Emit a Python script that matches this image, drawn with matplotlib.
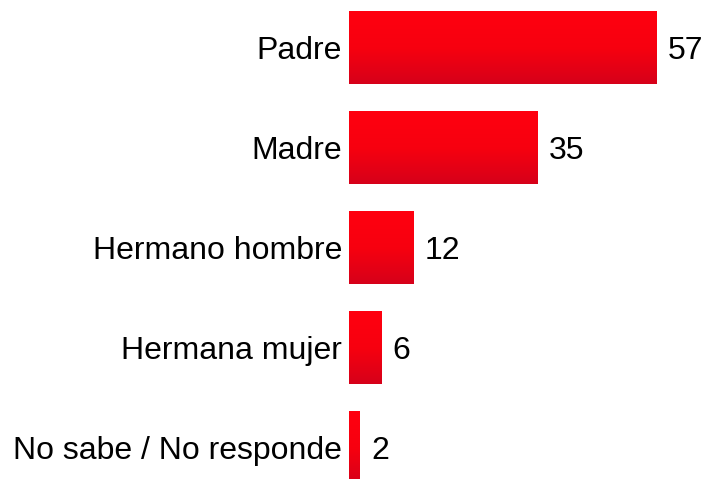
import matplotlib.pyplot as plt
import numpy as np
from matplotlib.colors import LinearSegmentedColormap

categories = ['Padre', 'Madre', 'Hermano hombre', 'Hermana mujer', 'No sabe / No responde']
values = [57, 35, 12, 6, 2]

plt.rcParams['font.family'] = ['Liberation Sans', 'DejaVu Sans']

fig = plt.figure(figsize=(7.09, 4.79), dpi=100)
ax = fig.add_axes([349 / 709, 0, 1 - 349 / 709, 1])

idx = np.arange(len(categories))
height = 0.73
bars = ax.barh(idx, values, height, color='none', edgecolor='none')

# vertical red gradient inside each bar: bright at top, darker at bottom
cmap = LinearSegmentedColormap.from_list('red_grad', ['#ff0010', '#f7000f', '#d6001a'])
grad = np.linspace(0, 1, 256).reshape(-1, 1)
for b in bars:
    x0, y0 = b.get_x(), b.get_y()
    w, h = b.get_width(), b.get_height()
    im = ax.imshow(grad, cmap=cmap, aspect='auto', extent=(x0, x0 + w, y0 + h, y0),
                   origin='upper', zorder=2)
    im.set_clip_path(b)

for i, v in enumerate(values):
    ax.text(v + 2.1, i, str(v), va='center_baseline', ha='left', fontsize=23, color='#000000')

ax.set_yticks(idx, categories)
ax.tick_params(axis='y', length=0, pad=5, labelsize=23)
ax.set_xticks([])
ax.set_xlim(0, 66.8)
ax.set_ylim(4.315, -0.475)
for s in ax.spines.values():
    s.set_visible(False)

fig.savefig('out.png', dpi=100)
